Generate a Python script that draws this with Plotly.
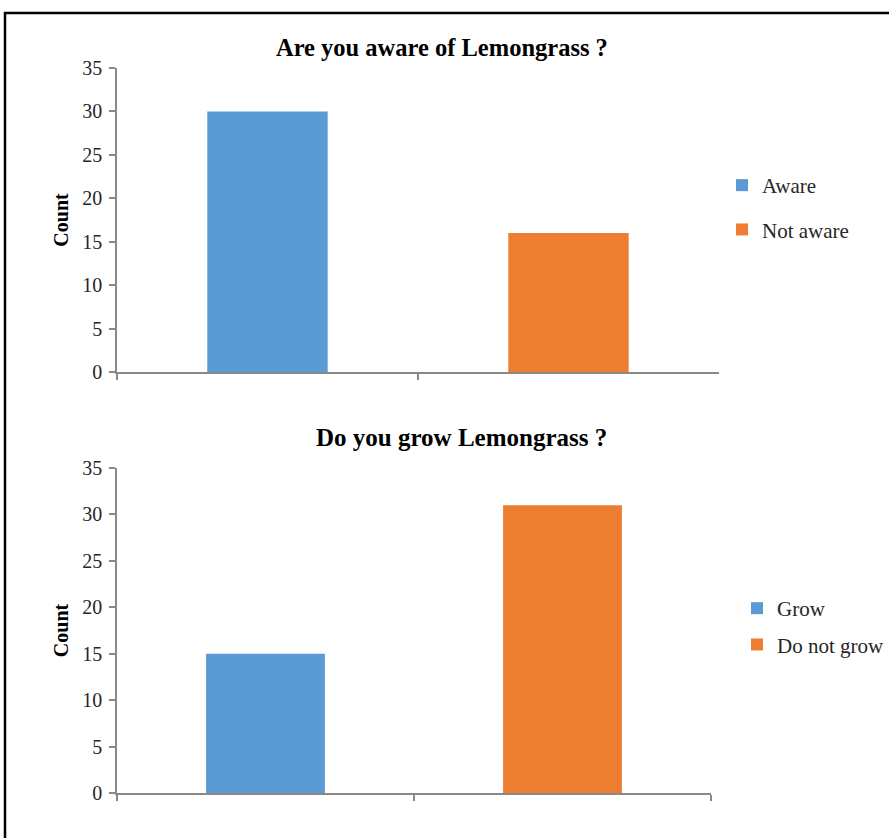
import plotly.graph_objects as go

# Data
aware_categories = ["Aware", "Not aware"]
aware_counts = [30, 16]
grow_categories = ["Grow", "Do not grow"]
grow_counts = [15, 31]
colors = ["#5B9BD5", "#ED7D31"]
y_ticks = [0, 5, 10, 15, 20, 25, 30, 35]

W, H = 889, 838
SERIF = "Liberation Serif, Times New Roman, serif"
AXIS_GRAY = "#898989"
TEXT = "#262626"

def px_x(p):
    return p / W

def px_y(p):
    return 1 - p / H

fig = go.Figure()

for cat, val, col in zip(aware_categories, aware_counts, colors):
    fig.add_trace(go.Bar(x=[cat], y=[val], name=cat, marker_color=col,
                         marker_line_width=0,
                         width=0.4, xaxis="x", yaxis="y", legend="legend",
                         legendgroup=cat))
for cat, val, col in zip(grow_categories, grow_counts, colors):
    fig.add_trace(go.Bar(x=[cat], y=[val], name=cat, marker_color=col,
                         marker_line_width=0,
                         width=0.4, xaxis="x2", yaxis="y2", legend="legend2",
                         legendgroup=cat))

xaxis_common = dict(type="category", showticklabels=False, ticks="outside",
                    tickson="boundaries", ticklen=6, tickcolor=AXIS_GRAY,
                    tickwidth=1.5, showline=True, linecolor=AXIS_GRAY,
                    linewidth=1.5, showgrid=False, zeroline=False,
                    range=[-0.5, 1.5], automargin=False)
yaxis_common = dict(range=[0, 35], tickvals=y_ticks, ticks="outside",
                    ticklen=6, tickcolor=AXIS_GRAY, tickwidth=1.5,
                    showline=True, linecolor=AXIS_GRAY, linewidth=1.5,
                    showgrid=False, zeroline=False, automargin=False,
                    ticklabelstandoff=3,
                    tickfont=dict(family=SERIF, size=20, color=TEXT),
                    title=dict(text="<b>Count</b>", standoff=8,
                               font=dict(family=SERIF, size=20, color="black")))

fig.update_layout(
    width=W, height=H,
    margin=dict(l=0, r=0, t=0, b=0, autoexpand=False),
    paper_bgcolor="white", plot_bgcolor="white",
    barmode="overlay",
    font=dict(family=SERIF, color=TEXT),
    xaxis=dict(domain=[px_x(117), px_x(719)], anchor="y", **xaxis_common),
    yaxis=dict(domain=[px_y(372), px_y(68)], anchor="x", **yaxis_common),
    xaxis2=dict(domain=[px_x(117), px_x(711)], anchor="y2", **xaxis_common),
    yaxis2=dict(domain=[px_y(793), px_y(468)], anchor="x2", **yaxis_common),
    legend=dict(x=px_x(722), y=px_y(165), xanchor="left", yanchor="top",
                font=dict(family=SERIF, size=21, color=TEXT),
                itemwidth=30, tracegroupgap=14, bgcolor="rgba(0,0,0,0)"),
    legend2=dict(x=px_x(737), y=px_y(588), xanchor="left", yanchor="top",
                 font=dict(family=SERIF, size=21, color=TEXT),
                 itemwidth=30, tracegroupgap=6, bgcolor="rgba(0,0,0,0)"),
    annotations=[
        dict(text="<b>Are you aware of Lemongrass ?</b>", x=px_x(442),
             y=px_y(47), xref="paper", yref="paper", showarrow=False,
             xanchor="center", yanchor="middle",
             font=dict(family=SERIF, size=24.5, color="black")),
        dict(text="<b>Do you grow Lemongrass ?</b>", x=px_x(461),
             y=px_y(437), xref="paper", yref="paper", showarrow=False,
             xanchor="center", yanchor="middle",
             font=dict(family=SERIF, size=25, color="black")),
    ],
    shapes=[
        dict(type="rect", xref="paper", yref="paper",
             x0=px_x(5), x1=1.02, y0=-0.02, y1=px_y(13),
             line=dict(color="black", width=2.5), fillcolor="rgba(0,0,0,0)"),
    ],
)

fig.write_html("out.html")
